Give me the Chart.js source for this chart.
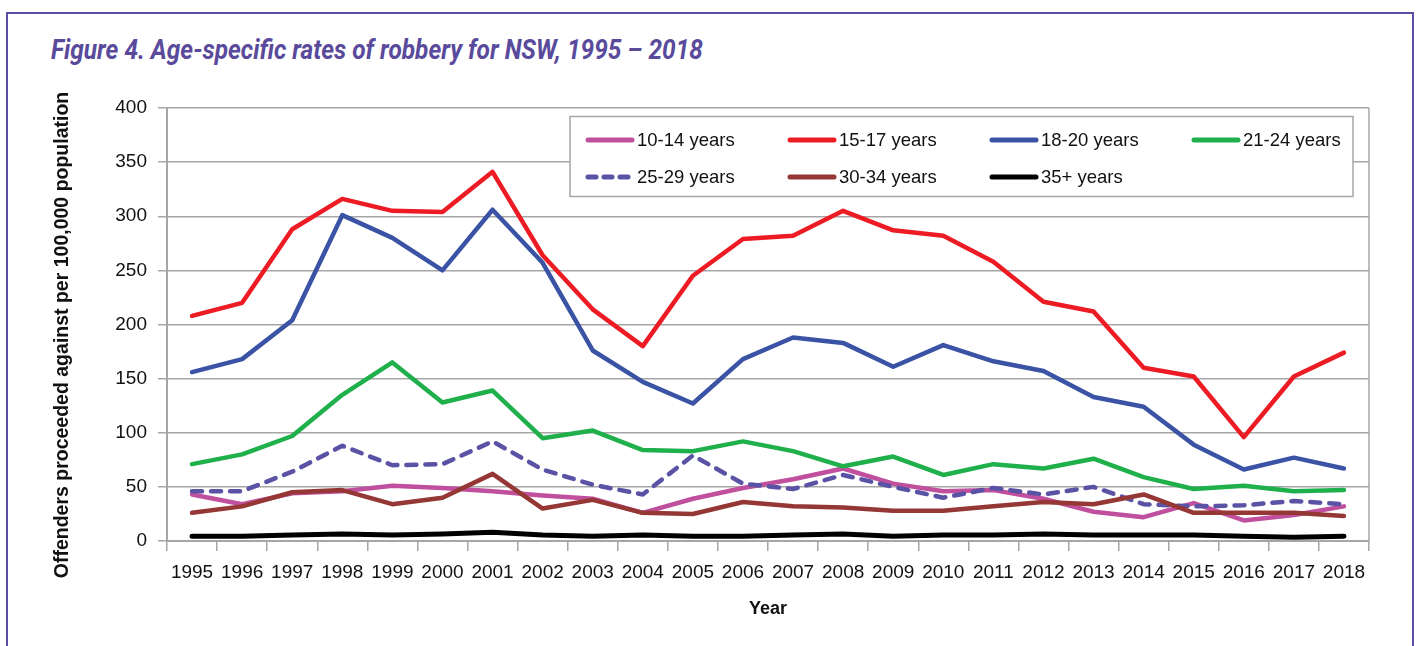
<!DOCTYPE html>
<html>
<head>
<meta charset="utf-8">
<script src="https://cdn.jsdelivr.net/npm/chart.js@4.4.1/dist/chart.umd.min.js"></script>
<style>
  html, body { margin: 0; padding: 0; background: #fff; }
  body { width: 1418px; height: 646px; position: relative; overflow: hidden; }
  #frame { position: absolute; left: 6px; top: 12px; width: 1404px; height: 700px; border: 2px solid #5a4ea2; }
  #title {
    position: absolute; left: 51px; top: 36px;
    font-family: Roboto, "Liberation Sans", sans-serif;
    font-weight: bold; font-style: italic; font-size: 28px; line-height: 1;
    color: #5a4a9c; white-space: nowrap; transform-origin: 0 0;
  }
  #graph1 { position: absolute; left: 0; top: 0; }
</style>
</head>
<body>
<div id="frame"></div>
<div id="title">Figure 4. Age-specific rates of robbery for NSW, 1995 – 2018</div>
<canvas id="graph1" width="1418" height="646"></canvas>
<script>
const years = ['1995', '1996', '1997', '1998', '1999', '2000', '2001', '2002', '2003', '2004', '2005', '2006',
               '2007', '2008', '2009', '2010', '2011', '2012', '2013', '2014', '2015', '2016', '2017', '2018'];

const ages10to14 = [43, 34, 44, 46, 51, 49, 46, 42, 39, 26, 39, 49, 57, 67, 53, 46, 47, 39, 27, 22, 35, 19, 24, 32];
const ages15to17 = [208, 220, 288, 316, 305, 304, 341, 264, 214, 180, 245, 279, 282, 305, 287, 282, 258, 221, 212, 160, 152, 96, 152, 174];
const ages18to20 = [156, 168, 204, 301, 280, 250, 306, 257, 176, 147, 127, 168, 188, 183, 161, 181, 166, 157, 133, 124, 89, 66, 77, 67];
const ages21to24 = [71, 80, 97, 135, 165, 128, 139, 95, 102, 84, 83, 92, 83, 69, 78, 61, 71, 67, 76, 59, 48, 51, 46, 47];
const ages25to29 = [46, 46, 64, 88, 70, 71, 92, 66, 52, 43, 79, 53, 48, 61, 50, 40, 49, 43, 50, 34, 32, 33, 37, 34];
const ages30to34 = [26, 32, 45, 47, 34, 40, 62, 30, 38, 26, 25, 36, 32, 31, 28, 28, 32, 36, 34, 43, 26, 26, 26, 23];
const ages35plus = [4.5, 4.5, 5.5, 6.5, 5.5, 6.5, 8, 5.5, 4.5, 5.5, 4.5, 4.5, 5.5, 6.5, 4.5, 5.5, 5.5, 6.5, 5.5, 5.5, 5.5, 4.5, 3.5, 4.5];

const seriesLabels = ['10-14 years', '15-17 years', '18-20 years', '21-24 years', '25-29 years', '30-34 years', '35+ years'];
const yTicks = [0, 50, 100, 150, 200, 250, 300, 350, 400];
const yTitle = 'Offenders proceeded against per 100,000 population';

const font = '"Liberation Sans", Arial, sans-serif';
const gridGrey = '#a6a6a6';

// fit the title to the width of the original
const titleEl = document.getElementById('title');
titleEl.style.transform = 'scaleX(' + (652 / titleEl.offsetWidth) + ')';

function series(label, data, color, i, extra) {
    return Object.assign({
        label: label,
        data: data,
        borderColor: color,
        backgroundColor: color,
        borderWidth: 4.5,
        pointRadius: 0,
        tension: 0,
        borderJoinStyle: 'round',
        borderCapStyle: 'round',
        order: 7 - i   // later series on top, like the original
    }, extra || {});
}

// right edge of the plot, the legend box inside the plot and the y title
const boxPlugin = {
    id: 'boxPlugin',
    beforeDatasetsDraw(chart) {
        const { ctx, chartArea: a } = chart;
        ctx.save();
        ctx.strokeStyle = gridGrey;
        ctx.lineWidth = 1.5;
        ctx.beginPath();
        ctx.moveTo(a.right, a.top);
        ctx.lineTo(a.right, a.bottom);
        ctx.stroke();
        ctx.restore();
    },
    afterDraw(chart) {
        const ctx = chart.ctx;
        ctx.save();
        ctx.fillStyle = '#fff';
        ctx.fillRect(570, 116.5, 783, 80);
        ctx.strokeStyle = gridGrey;
        ctx.lineWidth = 1.5;
        ctx.strokeRect(570, 116.5, 783, 80);
        ctx.font = '18.5px ' + font;
        ctx.textBaseline = 'middle';
        chart.data.datasets.forEach((ds, i) => {
            const x = 588 + (i % 4) * 202;
            const y = 140 + Math.floor(i / 4) * 37;
            ctx.strokeStyle = ds.borderColor;
            ctx.lineWidth = 5;
            ctx.lineCap = 'round';
            ctx.setLineDash(ds.borderDash ? [8, 8] : []);
            ctx.beginPath();
            ctx.moveTo(x, y);
            ctx.lineTo(x + 44, y);
            ctx.stroke();
            ctx.setLineDash([]);
            ctx.fillStyle = '#111';
            ctx.fillText(ds.label, x + 49, y + 1);
        });

        // y axis title, centred a bit lower than the plot like the original
        ctx.translate(63, 335);
        ctx.rotate(-Math.PI / 2);
        ctx.font = 'bold 19.5px ' + font;
        ctx.textAlign = 'center';
        ctx.textBaseline = 'middle';
        ctx.fillStyle = '#111';
        ctx.fillText(yTitle, 0, 0);
        ctx.restore();
    }
};

const config1 = {
    type: 'line',
    data: {
        labels: years,
        datasets: [
            series(seriesLabels[0], ages10to14, '#c04f9e', 0),
            series(seriesLabels[1], ages15to17, '#ed1c24', 1),
            series(seriesLabels[2], ages18to20, '#3a53a4', 2),
            series(seriesLabels[3], ages21to24, '#1fb04b', 3),
            series(seriesLabels[4], ages25to29, '#5a52a5', 4, { borderDash: [10, 9] }),
            series(seriesLabels[5], ages30to34, '#953735', 5),
            series(seriesLabels[6], ages35plus, '#000000', 6, { borderWidth: 5 })
        ]
    },
    options: {
        responsive: false,
        animation: false,
        layout: { padding: { top: 108, right: 49, left: 0, bottom: 0 } },
        plugins: {
            legend: { display: false },
            tooltip: { enabled: false }
        },
        scales: {
            x: {
                offset: true,
                grid: { offset: true, drawOnChartArea: false, tickLength: 10, color: gridGrey, lineWidth: 1.5 },
                border: { color: gridGrey, width: 2 },
                ticks: { color: '#111', font: { family: font, size: 19 }, padding: 10, maxRotation: 0, autoSkip: false },
                title: {
                    display: true,
                    text: 'Year',
                    color: '#111',
                    font: { family: font, size: 18, weight: 'bold' },
                    padding: { bottom: 26 }
                },
                afterFit(scale) { scale.height = 105; }
            },
            y: {
                min: 0,
                max: 400,
                afterBuildTicks(scale) { scale.ticks = yTicks.map(v => ({ value: v })); },
                grid: { color: gridGrey, lineWidth: 1.5, tickLength: 9 },
                border: { color: gridGrey, width: 2 },
                ticks: { color: '#111', font: { family: font, size: 19 }, padding: 11 },
                afterFit(scale) { scale.width = 167; }
            }
        }
    },
    plugins: [boxPlugin]
};

const myChart1 = new Chart(document.getElementById('graph1'), config1);
</script>
</body>
</html>
